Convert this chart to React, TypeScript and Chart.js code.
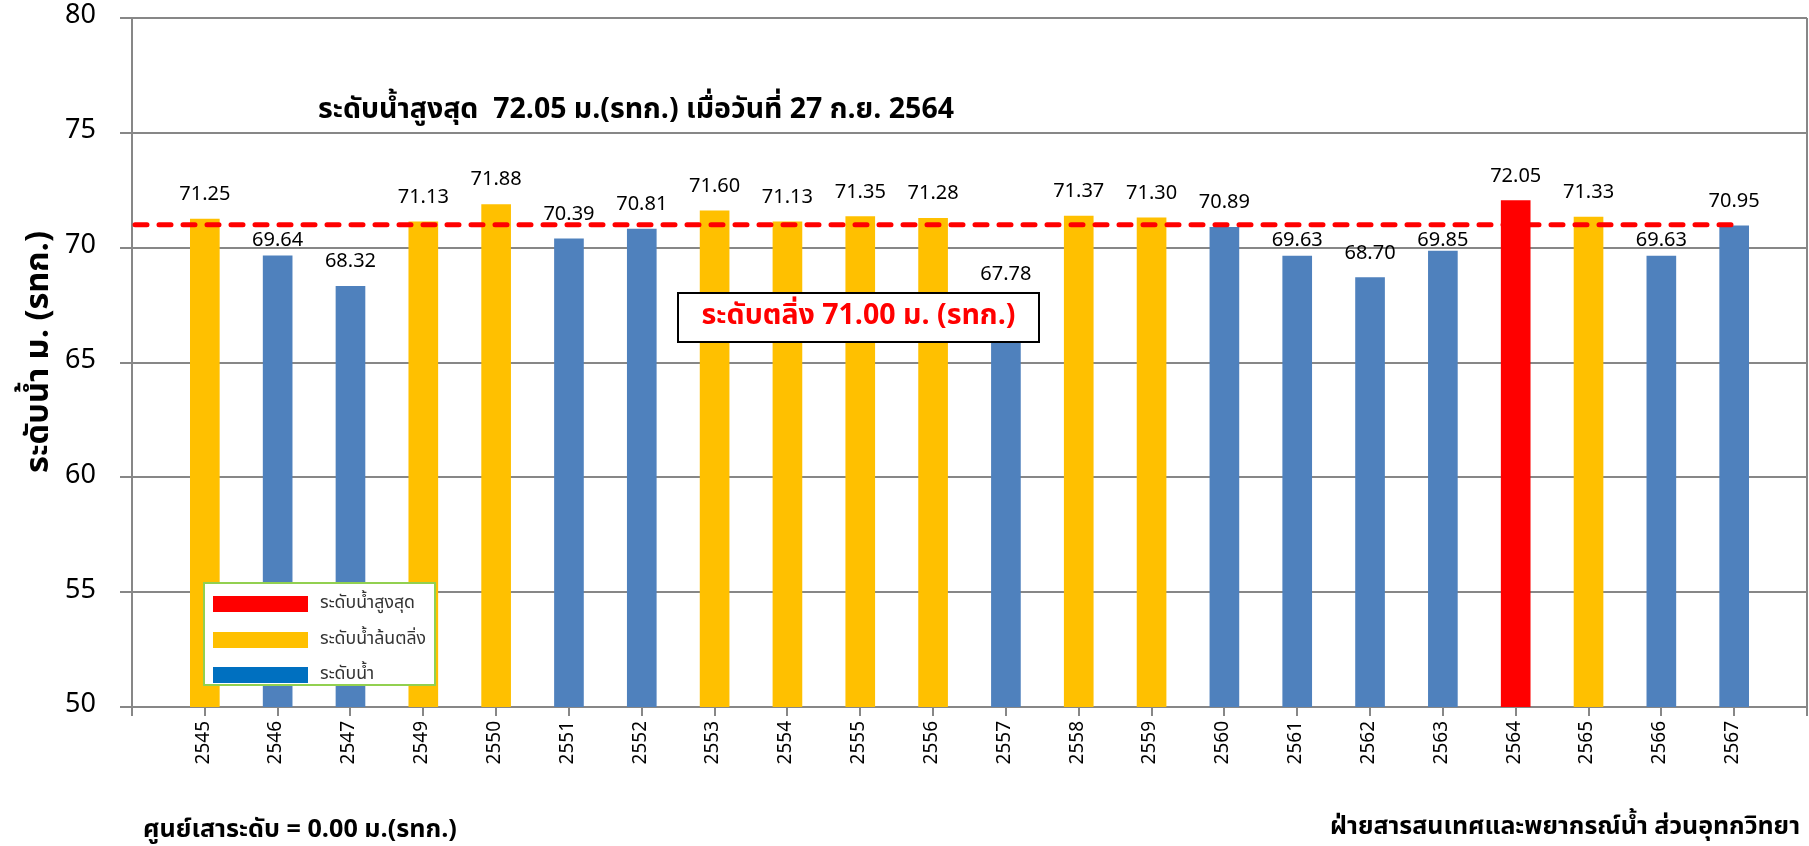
import React, { useEffect, useRef } from 'react';
import { Chart, registerables } from 'chart.js';
Chart.register(...registerables);

const years = ['2545', '2546', '2547', '2549', '2550', '2551', '2552', '2553', '2554', '2555', '2556', '2557', '2558', '2559', '2560', '2561', '2562', '2563', '2564', '2565', '2566', '2567'];
const waterLevels = [71.25, 69.64, 68.32, 71.13, 71.88, 70.39, 70.81, 71.60, 71.13, 71.35, 71.28, 67.78, 71.37, 71.30, 70.89, 69.63, 68.70, 69.85, 72.05, 71.33, 69.63, 70.95];
const bankLevel = 71.0;
const yTickMin = 50;
const yTickMax = 80;
const yTickStep = 5;
const titleText = 'ระดับน้ำสูงสุด  72.05 ม.(รทก.) เมื่อวันที่ 27 ก.ย. 2564';
const bankText = 'ระดับตลิ่ง 71.00 ม. (รทก.)';
const yTitleText = 'ระดับน้ำ ม. (รทก.)';
const legendLabels = ['ระดับน้ำสูงสุด', 'ระดับน้ำล้นตลิ่ง', 'ระดับน้ำ'];
const footLeftText = 'ศูนย์เสาระดับ = 0.00 ม.(รทก.)';
const footRightText = 'ฝ่ายสารสนเทศและพยากรณ์น้ำ ส่วนอุทกวิทยา';

const RED = '#FF0000';
const YELLOW = '#FFC000';
const BLUE = '#4F81BD';
const LEGEND_BLUE = '#0070C0';
const GRID = '#878787';
const FONT = "'Noto Sans Thai', 'Noto Sans', Tahoma, sans-serif";

const W = 1809;
const H = 846;

function fitFont(ctx: CanvasRenderingContext2D, text: string, weight: string, targetW: number) {
  ctx.font = `${weight} 100px ${FONT}`;
  const w = ctx.measureText(text).width;
  const size = (100 * targetW) / w;
  ctx.font = `${weight} ${size.toFixed(2)}px ${FONT}`;
}

export default function App() {
  const ref = useRef<HTMLCanvasElement | null>(null);

  useEffect(() => {
    document.body.style.margin = '0';
    const canvas = ref.current;
    if (!canvas) return;
    const maxVal = Math.max(...waterLevels);
    const colors = waterLevels.map((v) => (v === maxVal ? RED : v > bankLevel ? YELLOW : BLUE));
    const labels = ['', ...years, ''];
    const data = [null, ...waterLevels, null];
    const barColors = ['transparent', ...colors, 'transparent'];

    const overlay = {
      id: 'overlay',
      afterDatasetsDraw(chart: any) {
        const ctx = chart.ctx as CanvasRenderingContext2D;
        const area = chart.chartArea;
        const xs = chart.scales.x;
        const ys = chart.scales.y;
        ctx.save();
        // right plot border
        ctx.strokeStyle = GRID;
        ctx.lineWidth = 2;
        ctx.beginPath();
        ctx.moveTo(area.right, area.top);
        ctx.lineTo(area.right, area.bottom);
        ctx.stroke();

        // bank level dashed line
        const lineY = ys.getPixelForValue(bankLevel);
        ctx.strokeStyle = RED;
        ctx.lineWidth = 5;
        ctx.lineCap = 'round';
        ctx.setLineDash([12, 12]);
        ctx.beginPath();
        ctx.moveTo(area.left + 3, lineY);
        ctx.lineTo(xs.getPixelForValue(labels.length - 2), lineY);
        ctx.stroke();
        ctx.setLineDash([]);

        // data labels
        const meta = chart.getDatasetMeta(0);
        ctx.fillStyle = '#000';
        ctx.font = `20px ${FONT}`;
        ctx.textAlign = 'center';
        ctx.textBaseline = 'alphabetic';
        meta.data.forEach((bar: any, i: number) => {
          const v = data[i];
          if (v == null) return;
          let base = bar.y - 19;
          if (base > lineY - 3 && base - 14 < lineY + 3) base = lineY + 21;
          ctx.fillText((v as number).toFixed(2), bar.x, base);
        });

        // bank level text box
        const bx = 678, by = 293, bw = 361, bh = 49;
        ctx.fillStyle = '#fff';
        ctx.fillRect(bx, by, bw, bh);
        ctx.strokeStyle = '#000';
        ctx.lineWidth = 2;
        ctx.strokeRect(bx, by, bw, bh);
        ctx.fillStyle = RED;
        fitFont(ctx, bankText, 'bold', 314);
        ctx.textAlign = 'center';
        ctx.textBaseline = 'middle';
        ctx.fillText(bankText, bx + bw / 2, by + bh / 2 + 1);

        // legend box
        const lx = 204, ly = 583, lw = 231, lh = 102;
        ctx.fillStyle = '#fff';
        ctx.fillRect(lx, ly, lw, lh);
        ctx.strokeStyle = '#92D050';
        ctx.lineWidth = 2;
        ctx.strokeRect(lx, ly, lw, lh);
        const swColors = [RED, YELLOW, LEGEND_BLUE];
        const swY = [596, 632, 667];
        fitFont(ctx, legendLabels[0], 'normal', 95);
        ctx.textAlign = 'left';
        ctx.textBaseline = 'middle';
        swColors.forEach((c, i) => {
          ctx.fillStyle = c;
          ctx.fillRect(213, swY[i], 95, 16);
          ctx.fillStyle = '#333';
          ctx.fillText(legendLabels[i], 320, swY[i] + 8);
        });

        // title
        ctx.fillStyle = '#000';
        fitFont(ctx, titleText, 'bold', 636);
        ctx.textAlign = 'left';
        ctx.textBaseline = 'alphabetic';
        ctx.fillText(titleText, 318, 118);

        // y title
        ctx.save();
        ctx.translate(41, 352);
        ctx.rotate(-Math.PI / 2);
        fitFont(ctx, yTitleText, 'bold', 242);
        ctx.textAlign = 'center';
        ctx.textBaseline = 'middle';
        ctx.fillText(yTitleText, 0, 0);
        ctx.restore();

        // footers
        ctx.textBaseline = 'alphabetic';
        ctx.textAlign = 'left';
        fitFont(ctx, footLeftText, 'bold', 314);
        ctx.fillText(footLeftText, 143, 837);
        ctx.textAlign = 'right';
        fitFont(ctx, footRightText, 'bold', 470);
        ctx.fillText(footRightText, 1800, 834);
        ctx.restore();
      },
    };

    const chart = new Chart(canvas, {
      type: 'bar',
      data: {
        labels,
        datasets: [
          {
            data: data as any,
            backgroundColor: barColors,
            barThickness: 29,
          },
        ],
      },
      options: {
        animation: false,
        responsive: false,
        devicePixelRatio: 1,
        layout: { padding: { left: 0, right: 2, top: 18, bottom: 0 } },
        plugins: { legend: { display: false }, tooltip: { enabled: false } },
        scales: {
          x: {
            offset: false,
            grid: {
              offset: false,
              drawOnChartArea: false,
              drawTicks: true,
              tickLength: 9,
              color: GRID,
              lineWidth: 2,
            },
            border: { display: true, color: GRID, width: 2 },
            ticks: {
              autoSkip: false,
              minRotation: 90,
              maxRotation: 90,
              padding: 5,
              color: '#000',
              font: { family: FONT, size: 19 },
            },
            afterFit(scale: any) {
              scale.height = 139;
              scale.paddingLeft = 0;
              scale.paddingRight = 0;
            },
          },
          y: {
            min: yTickMin,
            max: yTickMax,
            grid: { color: GRID, lineWidth: 2, tickLength: 12, drawTicks: true },
            border: { display: true, color: GRID, width: 2 },
            ticks: {
              stepSize: yTickStep,
              padding: 24,
              color: '#000',
              font: { family: FONT, size: 27 },
            },
            afterFit(scale: any) {
              scale.width = 132;
              scale.paddingTop = 0;
              scale.paddingBottom = 0;
            },
          },
        },
      },
      plugins: [overlay],
    });
    return () => chart.destroy();
  }, []);

  return (
    <div style={{ width: W, height: H, background: '#fff' }}>
      <canvas ref={ref} width={W} height={H} style={{ display: 'block', width: W, height: H }} />
    </div>
  );
}
